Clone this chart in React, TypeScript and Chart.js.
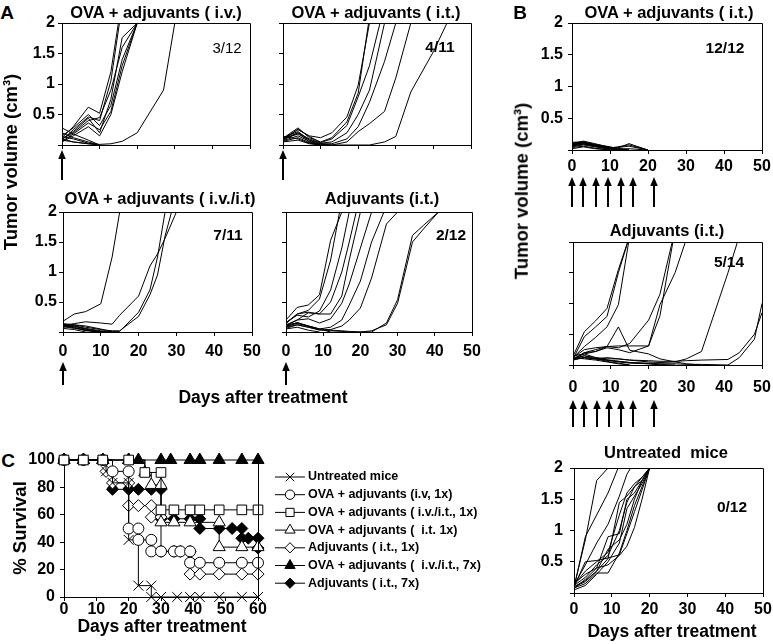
import React, { useEffect, useRef } from 'react';
import { Chart, registerables } from 'chart.js';

Chart.register(...registerables);

const FONT = '"Liberation Sans", Arial, Helvetica, sans-serif';
Chart.defaults.font.family = FONT;
Chart.defaults.color = '#000';

// ---------- tick values ----------
const GROWTH_X_TICKS = [0, 10, 20, 30, 40, 50];
const GROWTH_Y_TICKS = [0, 0.5, 1, 1.5, 2];
const GROWTH_Y_LABELS = ['', '0.5', '1', '1.5', '2'];
const SURV_X_TICKS = [0, 10, 20, 30, 40, 50, 60];
const SURV_Y_TICKS = [0, 20, 40, 60, 80, 100];

// ---------- treatment days (arrows) ----------
const A_ARROW_DAYS = [0];
const B_ARROW_DAYS = [0, 3, 6.3, 9.4, 12.8, 16, 21.5];

// ---------- Panel A: OVA + adjuvants (i.v.) ----------
const A1_DAYS = [0, 3, 7, 10, 13, 16, 20, 27, 30];
const A1_MICE = [
  [0.12, 0.3, 0.62, 0.52, 1.2, 2.4],
  [0.08, 0.25, 0.46, 0.4, 1.05, 2.3],
  [0.1, 0.22, 0.44, 0.2, 0.75, 1.76, 2.0],
  [0.15, 0.28, 0.5, 0.32, 0.65, 1.4, 2.0],
  [0.06, 0.18, 0.36, 0.25, 0.55, 1.3, 2.0],
  [0.1, 0.2, 0.4, 0.45, 0.9, 1.6, 2.0],
  [0.05, 0.15, 0.3, 0.15, 0.5, 1.2, 2.0],
  [0.08, 0.05, 0.02, 0.01, 0.02, 0.06, 0.2, 0.9, 2.0],
  [0.28, 0.18, 0.08, 0.0],
  [0.2, 0.12, 0.05, 0.0],
  [0.1, 0.05, 0.02, 0.0],
  [0.14, 0.1, 0.03, 0.0],
];

// ---------- Panel A: OVA + adjuvants (i.t.) ----------
const A2_DAYS = [0, 4, 7, 10, 13, 17, 20, 23, 27, 30, 34, 40, 44];
const A2_MICE = [
  [0.1, 0.25, 0.15, 0.12, 0.2, 0.46, 0.98, 2.0],
  [0.09, 0.26, 0.14, 0.04, 0.1, 0.32, 0.79, 1.3, 2.3],
  [0.08, 0.2, 0.1, 0.03, 0.05, 0.2, 0.5, 0.9, 2.0],
  [0.12, 0.22, 0.08, 0.02, 0.02, 0.1, 0.3, 0.7, 1.37, 2.0],
  [0.07, 0.15, 0.06, 0.01, 0.0, 0.05, 0.22, 0.35, 0.55, 1.1, 2.0],
  [0.1, 0.18, 0.08, 0.02, 0.0, 0.0, 0.0, 0.0, 0.05, 0.14, 0.87, 1.53, 2.05],
  [0.11, 0.28, 0.12, 0.05, 0.12, 0.38, 0.85, 2.1],
  [0.1, 0.2, 0.05, 0.0],
  [0.06, 0.12, 0.04, 0.0],
  [0.14, 0.1, 0.03, 0.0],
  [0.05, 0.08, 0.02, 0.0],
];

// ---------- Panel A: OVA + adjuvants (i.v./i.t) ----------
const A3_DAYS = [0, 3, 6, 10, 13, 15, 20, 23, 25, 27, 30];
const A3_MICE = [
  [0.18, 0.3, 0.34, 0.47, 1.25, 2.0],
  [0.11, 0.14, 0.17, 0.15, 0.13, 0.28, 0.6, 1.1, 1.3, 1.56, 2.0],
  [0.12, 0.1, 0.06, 0.02, 0.01, 0.01, 0.33, 0.7, 1.25, 2.0],
  [0.1, 0.12, 0.08, 0.04, 0.02, 0.02, 0.26, 0.62, 0.95, 1.6, 2.3],
  [0.13, 0.1, 0.05, 0.0],
  [0.1, 0.07, 0.03, 0.0],
  [0.08, 0.1, 0.04, 0.01, 0.0],
  [0.14, 0.12, 0.1, 0.05, 0.0],
  [0.06, 0.04, 0.0],
  [0.12, 0.08, 0.02, 0.0],
  [0.09, 0.06, 0.03, 0.0],
];

// ---------- Panel A: Adjuvants (i.t.) ----------
const A4_DAYS = [0, 3, 6, 9, 12, 15, 17, 20, 23, 27, 30, 34, 37, 41];
const A4_MICE = [
  [0.2, 0.41, 0.45, 0.62, 1.53, 2.0],
  [0.14, 0.3, 0.36, 0.55, 1.2, 2.2],
  [0.12, 0.2, 0.32, 0.3, 0.5, 1.0, 1.5, 2.3],
  [0.15, 0.3, 0.33, 0.3, 0.3, 0.6, 1.2, 2.0],
  [0.1, 0.2, 0.22, 0.15, 0.22, 0.48, 0.8, 1.4, 2.0],
  [0.08, 0.16, 0.1, 0.05, 0.08, 0.2, 0.45, 0.85, 1.5, 2.1],
  [0.06, 0.12, 0.08, 0.03, 0.04, 0.1, 0.2, 0.4, 0.9, 1.8, 2.0],
  [0.1, 0.14, 0.1, 0.05, 0.03, 0.02, 0.01, 0.0, 0.0, 0.15, 0.54, 1.61, 1.78, 2.0],
  [0.08, 0.12, 0.08, 0.04, 0.02, 0.01, 0.0, 0.0, 0.02, 0.12, 0.48, 1.5, 1.72, 2.0],
  [0.16, 0.28, 0.25, 0.35, 0.7, 1.4, 2.0],
  [0.12, 0.15, 0.1, 0.05, 0.0],
  [0.05, 0.08, 0.03, 0.0],
];

// ---------- Panel B: OVA + adjuvants (i.t.), 7x ----------
const B1_DAYS = [0, 3, 6, 10, 12, 15, 20];
const B1_MICE = [
  [0.1, 0.14, 0.1, 0.04, 0.03, 0.1, 0.0],
  [0.08, 0.12, 0.08, 0.03, 0.05, 0.08, 0.0],
  [0.12, 0.13, 0.09, 0.05, 0.02, 0.0],
  [0.06, 0.1, 0.06, 0.02, 0.0],
  [0.09, 0.11, 0.07, 0.03, 0.01, 0.0],
  [0.05, 0.08, 0.05, 0.01, 0.0],
  [0.11, 0.12, 0.08, 0.04, 0.02, 0.02, 0.0],
  [0.07, 0.09, 0.07, 0.02, 0.0],
  [0.04, 0.06, 0.03, 0.0],
  [0.1, 0.12, 0.07, 0.04, 0.04, 0.06, 0.0],
  [0.02, 0.05, 0.02, 0.0],
  [0.08, 0.1, 0.06, 0.03, 0.01, 0.0],
];

// ---------- Panel B: Adjuvants (i.t.), 7x ----------
const B2_DAYS = [0, 3, 6, 9, 12, 15, 20, 23, 27, 30, 34, 41, 44, 48, 50];
const B2_MICE = [
  [0.14, 0.54, 0.72, 0.92, 1.55, 2.1],
  [0.1, 0.46, 0.62, 0.79, 1.5, 2.1],
  [0.12, 0.3, 0.45, 0.62, 0.98, 2.1],
  [0.1, 0.2, 0.22, 0.3, 0.62, 0.24, 0.18, 0.1, 0.05, 0.02, 0.0],
  [0.08, 0.2, 0.25, 0.3, 0.28, 0.35, 0.73, 1.15, 2.2],
  [0.1, 0.18, 0.22, 0.28, 0.25, 0.2, 0.31, 0.98, 1.5, 2.05],
  [0.12, 0.25, 0.28, 0.3, 0.31, 0.31, 0.31, 0.8, 2.2],
  [0.1, 0.15, 0.12, 0.1, 0.1, 0.08, 0.05, 0.04, 0.05, 0.1, 0.22, 1.5, 2.1],
  [0.09, 0.12, 0.1, 0.08, 0.06, 0.04, 0.03, 0.02, 0.02, 0.01, 0.01, 0.0, 0.12, 0.42, 1.0],
  [0.1, 0.12, 0.1, 0.12, 0.1, 0.08, 0.07, 0.06, 0.06, 0.07, 0.08, 0.09, 0.2, 0.5, 0.85],
  [0.1, 0.15, 0.1, 0.06, 0.03, 0.0],
  [0.12, 0.1, 0.08, 0.05, 0.02, 0.0],
  [0.08, 0.12, 0.1, 0.08, 0.06, 0.04, 0.02, 0.0],
  [0.15, 0.18, 0.12, 0.08, 0.05, 0.03, 0.02, 0.01, 0.0],
];

// ---------- Panel B: Untreated mice ----------
const B3_DAYS = [0, 3, 6, 9, 12, 14, 16, 18, 20];
const B3_MICE = [
  [0.1, 0.85, 1.8, 2.0],
  [0.08, 0.9, 1.25, 1.6, 2.05],
  [0.12, 0.45, 0.8, 1.1, 1.55, 1.9, 2.1],
  [0.1, 0.2, 0.35, 0.55, 1.45, 1.55, 1.7, 1.85, 2.0],
  [0.08, 0.15, 0.32, 0.32, 0.64, 1.0, 1.4, 1.7, 2.0],
  [0.1, 0.5, 0.52, 0.56, 0.61, 0.95, 1.3, 1.65, 2.0],
  [0.15, 0.3, 0.4, 0.9, 0.95, 1.5, 1.6, 1.8, 2.0],
  [0.05, 0.12, 0.3, 0.5, 0.8, 1.35, 1.55, 1.75, 2.0],
  [0.12, 0.25, 0.45, 0.6, 1.0, 1.45, 1.7, 1.8, 2.0],
  [0.1, 0.18, 0.35, 0.7, 0.85, 1.1, 1.5, 1.8, 2.0],
  [0.07, 0.22, 0.4, 0.45, 0.6, 0.75, 1.05, 1.5, 2.0],
  [0.13, 0.35, 0.5, 0.65, 1.25, 1.6, 1.75, 1.85, 2.0],
];

// ---------- Panel C: survival ----------
const UNTREATED_DAYS = [0, 6, 12, 13, 15, 20, 20, 23, 27, 27, 30, 35, 39, 42, 48, 55, 60];
const UNTREATED_SURV = [100, 100, 100, 91.7, 83.3, 83.3, 41.7, 8.3, 8.3, 0, 0, 0, 0, 0, 0, 0, 0];
const IV1X_DAYS = [0, 6, 12, 15, 20, 20, 23, 23, 27, 27, 30, 34, 36, 39, 39, 42, 48, 55, 60];
const IV1X_SURV = [100, 100, 100, 91.7, 91.7, 50, 50, 41.7, 41.7, 33.3, 33.3, 33.3, 33.3, 33.3, 25, 25, 25, 25, 25];
const IVIT1X_DAYS = [0, 6, 12, 20, 25, 30, 30, 34, 39, 42, 48, 55, 60];
const IVIT1X_SURV = [100, 100, 100, 100, 90.9, 90.9, 63.6, 63.6, 63.6, 63.6, 63.6, 63.6, 63.6];
const IT1X_DAYS = [0, 6, 12, 20, 25, 27, 30, 30, 34, 39, 48, 48, 55, 60];
const IT1X_SURV = [100, 100, 100, 100, 90.9, 81.8, 81.8, 54.5, 54.5, 54.5, 54.5, 36.4, 36.4, 36.4];
const ADJ1X_DAYS = [0, 6, 12, 13, 15, 20, 20, 23, 27, 27, 30, 30, 34, 36, 39, 39, 42, 48, 55, 60];
const ADJ1X_SURV = [100, 100, 100, 91.7, 83.3, 83.3, 66.7, 66.7, 66.7, 58.3, 58.3, 33.3, 33.3, 33.3, 33.3, 16.7, 16.7, 16.7, 16.7, 16.7];
const IVIT7X_DAYS = [0, 6, 12, 20, 23, 30, 33, 39, 42, 48, 55, 60];
const IVIT7X_SURV = [100, 100, 100, 100, 100, 100, 100, 100, 100, 100, 100, 100];
const ADJ7X_DAYS = [0, 6, 12, 15, 20, 23, 27, 30, 30, 34, 39, 42, 42, 48, 52, 55, 55, 57, 60, 60];
const ADJ7X_SURV = [100, 100, 100, 78.6, 78.6, 78.6, 78.6, 78.6, 57.1, 57.1, 57.1, 57.1, 50, 50, 50, 50, 42.9, 42.9, 42.9, 35.7];

const SURV_LABELS = [
  'Untreated mice',
  'OVA + adjuvants (i.v, 1x)',
  'OVA + adjuvants ( i.v./i.t., 1x)',
  'OVA + adjuvants (  i.t. 1x)',
  'Adjuvants ( i.t., 1x)',
  'OVA + adjuvants (  i.v./i.t., 7x)',
  'Adjuvants ( i.t., 7x)',
];
const SURV_GROUPS = [
  { days: UNTREATED_DAYS, surv: UNTREATED_SURV },
  { days: IV1X_DAYS, surv: IV1X_SURV },
  { days: IVIT1X_DAYS, surv: IVIT1X_SURV },
  { days: IT1X_DAYS, surv: IT1X_SURV },
  { days: ADJ1X_DAYS, surv: ADJ1X_SURV },
  { days: IVIT7X_DAYS, surv: IVIT7X_SURV },
  { days: ADJ7X_DAYS, surv: ADJ7X_SURV },
];
// marker styles and stacking (appearance only)
const SURV_MARKERS = [
  { style: 'crossRot', r: 7, fill: '#fff', order: 4 },
  { style: 'circle', r: 5.5, fill: '#fff', order: 3 },
  { style: 'rect', r: 6.8, fill: '#fff', order: 0 },
  { style: 'triangle', r: 7, fill: '#fff', order: 2 },
  { style: 'rectRot', r: 6, fill: '#fff', order: 5 },
  { style: 'triangle', r: 7, fill: '#000', order: 1 },
  { style: 'rectRot', r: 6, fill: '#000', order: 6 },
];

type Box = { l: number; t: number; r: number; b: number };

const align = (p: number) => Math.round(p - 0.5) + 0.5;

function framePlugin(mode: 'box' | 'right') {
  return {
    id: 'frame_' + mode,
    afterDatasetsDraw(chart: any) {
      const { ctx, chartArea: a } = chart;
      ctx.save();
      ctx.strokeStyle = '#000';
      ctx.lineWidth = 1;
      ctx.beginPath();
      const l = align(a.left), r = align(a.right), t = align(a.top), b = align(a.bottom);
      if (mode === 'box') {
        ctx.moveTo(l, t);
        ctx.lineTo(r, t);
        ctx.lineTo(r, b);
      } else {
        ctx.moveTo(r, t);
        ctx.lineTo(r, b);
      }
      ctx.stroke();
      ctx.restore();
    },
  };
}

function arrowPlugin(days: number[], offset: number, len: number) {
  return {
    id: 'arrows',
    afterDraw(chart: any) {
      const { ctx, chartArea, scales } = chart;
      const y0 = chartArea.bottom + offset;
      const y1 = y0 + len;
      ctx.save();
      ctx.fillStyle = '#000';
      ctx.strokeStyle = '#000';
      ctx.lineWidth = 2;
      days.forEach((d) => {
        const x = Math.round(scales.x.getPixelForValue(d));
        ctx.beginPath();
        ctx.moveTo(x, y0 + 6);
        ctx.lineTo(x, y1);
        ctx.stroke();
        ctx.beginPath();
        ctx.moveTo(x, y0);
        ctx.lineTo(x - 3.8, y0 + 9);
        ctx.lineTo(x + 3.8, y0 + 9);
        ctx.closePath();
        ctx.fill();
      });
      ctx.restore();
    },
  };
}

function drawMarker(ctx: CanvasRenderingContext2D, style: string, x: number, y: number, r: number, fill: string) {
  ctx.beginPath();
  if (style === 'circle') {
    ctx.arc(x, y, r, 0, Math.PI * 2);
  } else if (style === 'rect') {
    const s = r * Math.SQRT1_2;
    ctx.rect(x - s, y - s, 2 * s, 2 * s);
  } else if (style === 'rectRot') {
    ctx.moveTo(x - r, y);
    ctx.lineTo(x, y - r);
    ctx.lineTo(x + r, y);
    ctx.lineTo(x, y + r);
    ctx.closePath();
  } else if (style === 'triangle') {
    let rad = 0;
    ctx.moveTo(x + Math.sin(rad) * r, y - Math.cos(rad) * r);
    rad += (2 * Math.PI) / 3;
    ctx.lineTo(x + Math.sin(rad) * r, y - Math.cos(rad) * r);
    rad += (2 * Math.PI) / 3;
    ctx.lineTo(x + Math.sin(rad) * r, y - Math.cos(rad) * r);
    ctx.closePath();
  } else if (style === 'crossRot') {
    const d = r * Math.SQRT1_2;
    ctx.moveTo(x - d, y - d);
    ctx.lineTo(x + d, y + d);
    ctx.moveTo(x - d, y + d);
    ctx.lineTo(x + d, y - d);
  }
  if (style !== 'crossRot') {
    ctx.fillStyle = fill;
    ctx.fill();
  }
  ctx.stroke();
}

const kmLegendPlugin = {
  id: 'kmLegend',
  afterDraw(chart: any) {
    const { ctx, chartArea } = chart;
    const x0 = chartArea.right + 17;
    ctx.save();
    ctx.strokeStyle = '#000';
    ctx.lineWidth = 1;
    ctx.font = `bold 12.5px ${FONT}`;
    ctx.textBaseline = 'middle';
    ctx.textAlign = 'left';
    SURV_LABELS.forEach((label, i) => {
      const y = chartArea.top + 17 + i * 17.7;
      ctx.beginPath();
      ctx.moveTo(x0, y);
      ctx.lineTo(x0 + 30, y);
      ctx.stroke();
      const m = SURV_MARKERS[i];
      drawMarker(ctx, m.style, x0 + 15, y, m.r * 0.85, m.fill);
      ctx.fillStyle = '#000';
      ctx.fillText(label, x0 + 33, y);
    });
    ctx.restore();
  },
};

const tickFont = { family: FONT, size: 16, weight: 'bold' as const, lineHeight: 1 };

function GrowthChart(props: {
  box: Box;
  plot: Box;
  days: number[];
  mice: number[][];
  xLabels: boolean;
  yLabels: boolean;
  xPad: number;
  yPad: number;
  arrows?: number[];
  arrowOffset?: number;
  arrowLen?: number;
}) {
  const ref = useRef<HTMLCanvasElement>(null);
  const { box, plot } = props;
  const w = box.r - box.l;
  const h = box.b - box.t;
  useEffect(() => {
    const yWidth = plot.l - box.l;
    const xHeight = box.b - plot.b;
    const plugins: any[] = [framePlugin('box')];
    if (props.arrows) plugins.push(arrowPlugin(props.arrows, props.arrowOffset || 5, props.arrowLen || 30));
    const chart = new Chart(ref.current as HTMLCanvasElement, {
      type: 'line',
      data: {
        datasets: props.mice.map((vals) => ({
          data: vals.map((v, i) => ({ x: props.days[i], y: v })),
          borderColor: '#000',
          borderWidth: 1,
          pointRadius: 0,
          tension: 0,
          fill: false,
        })),
      },
      options: {
        animation: false,
        responsive: false,
        maintainAspectRatio: false,
        devicePixelRatio: 1,
        events: [],
        layout: { padding: { left: 0, top: plot.t - box.t, right: box.r - plot.r, bottom: 0 } },
        plugins: { legend: { display: false }, tooltip: { enabled: false }, title: { display: false } },
        scales: {
          x: {
            type: 'linear',
            min: 0,
            max: 50,
            afterBuildTicks: (s: any) => {
              s.ticks = GROWTH_X_TICKS.map((v) => ({ value: v }));
            },
            afterFit: (s: any) => {
              s.height = xHeight;
            },
            ticks: { display: props.xLabels, font: tickFont, color: '#000', padding: props.xPad, maxRotation: 0, autoSkip: false },
            grid: { display: true, drawOnChartArea: false, drawTicks: true, tickLength: 4, color: '#000', lineWidth: 1 },
            border: { display: true, color: '#000', width: 1 },
          },
          y: {
            type: 'linear',
            min: 0,
            max: 2,
            afterBuildTicks: (s: any) => {
              s.ticks = GROWTH_Y_TICKS.map((v) => ({ value: v }));
            },
            afterFit: (s: any) => {
              s.width = yWidth;
            },
            ticks: {
              display: props.yLabels,
              font: tickFont,
              color: '#000',
              padding: props.yPad,
              callback: (v: any) => {
                const i = GROWTH_Y_TICKS.indexOf(Number(v));
                return i >= 0 ? GROWTH_Y_LABELS[i] : '';
              },
            },
            grid: { display: true, drawOnChartArea: false, drawTicks: true, tickLength: 4, color: '#000', lineWidth: 1 },
            border: { display: true, color: '#000', width: 1 },
          },
        },
      } as any,
      plugins,
    });
    return () => chart.destroy();
  }, []);
  return (
    <canvas
      ref={ref}
      width={w}
      height={h}
      style={{ position: 'absolute', left: box.l, top: box.t, width: w, height: h }}
    />
  );
}

function SurvivalChart() {
  const ref = useRef<HTMLCanvasElement>(null);
  const box: Box = { l: 20, t: 438, r: 520, b: 627 };
  const plot: Box = { l: 64, t: 460, r: 258, b: 597 };
  const w = box.r - box.l;
  const h = box.b - box.t;
  useEffect(() => {
    const chart = new Chart(ref.current as HTMLCanvasElement, {
      type: 'line',
      data: {
        datasets: SURV_GROUPS.map((g, i) => ({
          data: g.days.map((d, j) => ({ x: d, y: g.surv[j] })),
          stepped: true,
          order: SURV_MARKERS[i].order,
          borderColor: '#000',
          borderWidth: 1,
          clip: false,
          pointStyle: SURV_MARKERS[i].style,
          pointRadius: SURV_MARKERS[i].r,
          pointBackgroundColor: SURV_MARKERS[i].fill,
          pointBorderColor: '#000',
          pointBorderWidth: 1,
          fill: false,
        })),
      },
      options: {
        animation: false,
        responsive: false,
        maintainAspectRatio: false,
        devicePixelRatio: 1,
        events: [],
        layout: { padding: { left: 0, top: plot.t - box.t, right: box.r - plot.r, bottom: 0 } },
        plugins: { legend: { display: false }, tooltip: { enabled: false }, title: { display: false } },
        scales: {
          x: {
            type: 'linear',
            min: 0,
            max: 60,
            afterBuildTicks: (s: any) => {
              s.ticks = SURV_X_TICKS.map((v) => ({ value: v }));
            },
            afterFit: (s: any) => {
              s.height = box.b - plot.b;
            },
            ticks: { font: tickFont, color: '#000', padding: 1, maxRotation: 0, autoSkip: false },
            grid: { display: true, drawOnChartArea: false, drawTicks: true, tickLength: 4, color: '#000', lineWidth: 1 },
            border: { display: true, color: '#000', width: 1 },
          },
          y: {
            type: 'linear',
            min: 0,
            max: 100,
            afterBuildTicks: (s: any) => {
              s.ticks = SURV_Y_TICKS.map((v) => ({ value: v }));
            },
            afterFit: (s: any) => {
              s.width = plot.l - box.l;
            },
            ticks: { font: tickFont, color: '#000', padding: 5 },
            grid: { display: true, drawOnChartArea: false, drawTicks: true, tickLength: 4, color: '#000', lineWidth: 1 },
            border: { display: true, color: '#000', width: 1 },
          },
        },
      } as any,
      plugins: [framePlugin('right'), kmLegendPlugin],
    });
    return () => chart.destroy();
  }, []);
  return (
    <canvas
      ref={ref}
      width={w}
      height={h}
      style={{ position: 'absolute', left: box.l, top: box.t, width: w, height: h }}
    />
  );
}

function Txt(props: { x: number; y: number; size: number; bold?: boolean; rotate?: boolean; children: React.ReactNode }) {
  const { x, y, size, bold = true, rotate = false } = props;
  return (
    <div
      style={{
        position: 'absolute',
        left: x,
        top: y,
        transform: `translate(-50%, -50%)${rotate ? ' rotate(-90deg)' : ''}`,
        fontFamily: FONT,
        fontSize: size,
        fontWeight: bold ? 700 : 400,
        whiteSpace: 'pre',
        lineHeight: 1,
        color: '#000',
      }}
    >
      {props.children}
    </div>
  );
}

export default function App() {
  return (
    <div style={{ position: 'absolute', left: 0, top: 0, width: 773, height: 644, background: '#fff', overflow: 'hidden' }}>
      <GrowthChart box={{ l: 20, t: 0, r: 280, b: 186 }} plot={{ l: 62, t: 23, r: 250, b: 145 }} days={A1_DAYS} mice={A1_MICE}
        xLabels={false} yLabels={true} xPad={4} yPad={3} arrows={A_ARROW_DAYS} arrowOffset={5} arrowLen={30} />
      <GrowthChart box={{ l: 262, t: 0, r: 500, b: 186 }} plot={{ l: 283, t: 23, r: 471, b: 145 }} days={A2_DAYS} mice={A2_MICE}
        xLabels={false} yLabels={false} xPad={4} yPad={3} arrows={A_ARROW_DAYS} arrowOffset={5} arrowLen={30} />
      <GrowthChart box={{ l: 20, t: 190, r: 280, b: 392 }} plot={{ l: 63, t: 212, r: 252, b: 332 }} days={A3_DAYS} mice={A3_MICE}
        xLabels={true} yLabels={true} xPad={8} yPad={2} arrows={A_ARROW_DAYS} arrowOffset={30} arrowLen={23} />
      <GrowthChart box={{ l: 264, t: 190, r: 500, b: 392 }} plot={{ l: 286, t: 212, r: 472, b: 332 }} days={A4_DAYS} mice={A4_MICE}
        xLabels={true} yLabels={false} xPad={8} yPad={2} arrows={A_ARROW_DAYS} arrowOffset={30} arrowLen={23} />
      <GrowthChart box={{ l: 530, t: 0, r: 800, b: 212 }} plot={{ l: 572, t: 23, r: 762, b: 150 }} days={B1_DAYS} mice={B1_MICE}
        xLabels={true} yLabels={true} xPad={5} yPad={5} arrows={B_ARROW_DAYS} arrowOffset={27} arrowLen={30} />
      <GrowthChart box={{ l: 540, t: 220, r: 800, b: 432 }} plot={{ l: 573, t: 242, r: 762, b: 365 }} days={B2_DAYS} mice={B2_MICE}
        xLabels={true} yLabels={false} xPad={11} yPad={5} arrows={B_ARROW_DAYS} arrowOffset={35} arrowLen={27} />
      <GrowthChart box={{ l: 530, t: 446, r: 800, b: 627 }} plot={{ l: 574, t: 468, r: 763, b: 593 }} days={B3_DAYS} mice={B3_MICE}
        xLabels={true} yLabels={true} xPad={5} yPad={7} />
      <SurvivalChart />

      <Txt x={7} y={12} size={19}>A</Txt>
      <Txt x={520} y={12} size={19}>B</Txt>
      <Txt x={8} y={460} size={19}>C</Txt>

      <Txt x={156} y={12} size={16.5}>OVA + adjuvants ( i.v.)</Txt>
      <Txt x={376} y={12} size={16.5}>OVA + adjuvants ( i.t.)</Txt>
      <Txt x={160} y={198} size={16.5}>OVA + adjuvants ( i.v./i.t)</Txt>
      <Txt x={382} y={198} size={16.5}>Adjuvants (i.t.)</Txt>
      <Txt x={669} y={12} size={16.5}>OVA + adjuvants ( i.t.)</Txt>
      <Txt x={667} y={230} size={16.5}>Adjuvants (i.t.)</Txt>
      <Txt x={666} y={452} size={16.5}>Untreated  mice</Txt>

      <Txt x={227} y={47} size={15} bold={false}>3/12</Txt>
      <Txt x={440} y={47} size={15.5}>4/11</Txt>
      <Txt x={228} y={235} size={15.5}>7/11</Txt>
      <Txt x={451} y={235} size={15.5}>2/12</Txt>
      <Txt x={725} y={48} size={15.5}>12/12</Txt>
      <Txt x={729} y={262} size={15.5}>5/14</Txt>
      <Txt x={732} y={507} size={15.5}>0/12</Txt>

      <Txt x={11} y={162} size={18.5} rotate>Tumor volume (cm³)</Txt>
      <Txt x={522} y={191} size={18.5} rotate>Tumor volume (cm³)</Txt>
      <Txt x={20} y={528} size={18.5} rotate>% Survival</Txt>

      <Txt x={263} y={398} size={17.5}>Days after treatment</Txt>
      <Txt x={672} y={632} size={17.5}>Days after treatment</Txt>
      <Txt x={162} y={627} size={17.5}>Days after treatment</Txt>
    </div>
  );
}
